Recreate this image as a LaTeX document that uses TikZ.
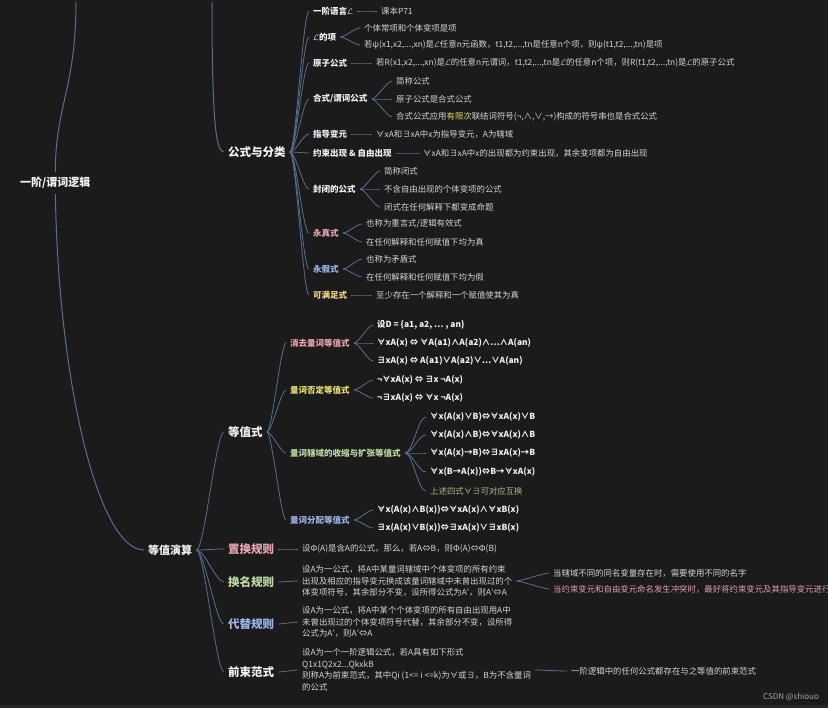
\documentclass[tikz,border=0pt]{standalone}
\usepackage{fontspec}
\setmainfont{Noto Sans CJK SC}
\usetikzlibrary{positioning}
\definecolor{mmbg}{HTML}{1B1B1B}
\definecolor{mmline}{HTML}{5B6E8E}
\definecolor{mmtext}{HTML}{F2F2F2}
\definecolor{mmleaf}{HTML}{D4D4D4}
\definecolor{mmpink}{HTML}{E8A4B2}
\definecolor{mmblue}{HTML}{9DB4E8}
\definecolor{mmyellow}{HTML}{F2D68C}
\definecolor{mmlemon}{HTML}{E6E07A}
\definecolor{mmgreen}{HTML}{BCD9A6}
\definecolor{mmolive}{HTML}{A9B98A}
\definecolor{mmrose}{HTML}{DDA1AA}
\definecolor{mmmark}{HTML}{D9DE66}
\definecolor{mmgray}{HTML}{A6A6A6}

\begin{document}
\begin{tikzpicture}[
  x=1pt, y=-1pt,
  every node/.style={inner xsep=0pt, inner ysep=1pt, anchor=west, text=mmtext},
  rootnode/.style={font=\fontsize{11}{13}\selectfont\bfseries},
  mainnode/.style={font=\fontsize{11.5}{14}\selectfont\bfseries},
  subnode/.style={font=\fontsize{8.5}{10}\selectfont\bfseries},
  leafnode/.style={font=\fontsize{8.4}{11.5}\selectfont, text=mmleaf, align=left},
  mathleaf/.style={font=\fontsize{8.4}{11.5}\selectfont\bfseries},
  conn/.style={draw=mmline, line width=0.8pt, shorten <=4pt, shorten >=4pt},
  link/.style={to path={.. controls +(#1,0) and +(-#1,0) .. (\tikztotarget)}},
  link/.default=9,
]
\useasboundingbox (0,0) rectangle (828,708);
\fill[mmbg] (0,0) rectangle (828,708);
\fill[black!85] (0,705) rectangle (828,708);
\clip (0,0) rectangle (828,708);

% root and the two big branches
\node[rootnode] (root) at (20,183) {一阶/谓词逻辑};
\coordinate (rootup) at (76,-2);
\coordinate (fcup) at (212,-2);
\node[mainnode] (fc) at (228,152) {公式与分类};
\node[rootnode] (calc) at (148,550) {等值演算};

% 公式与分类
\node[subnode] (lang) at (313,11) {一阶语言$\mathcal{L}$};
\node[leafnode] (langA) at (381,11) {课本P71};
\node[subnode] (term) at (313,37) {$\mathcal{L}$的项};
\node[leafnode] (termA) at (364,28) {个体常项和个体变项是项};
\node[leafnode] (termB) at (364,45) {若ψ(x1,x2,...,xn)是$\mathcal{L}$任意n元函数，t1,t2,...,tn是任意n个项，则ψ(t1,t2,...,tn)是项};
\node[subnode] (atom) at (313,63) {原子公式};
\node[leafnode] (atomA) at (376,63) {若R(x1,x2,...,xn)是$\mathcal{L}$的任意n元谓词，t1,t2,...,tn是$\mathcal{L}$的任意n个项，则R(t1,t2,...,tn)是$\mathcal{L}$的原子公式};
\node[subnode] (wff) at (313,99) {合式/谓词公式};
\node[leafnode] (wffA) at (396,81) {简称公式};
\node[leafnode] (wffB) at (396,99) {原子公式是合式公式};
\node[leafnode] (wffC) at (396,117) {合式公式应用\textcolor{mmmark}{有限次}联结词符号(¬,∧,∨,→)构成的符号串也是合式公式};
\node[subnode] (guide) at (313,134) {指导变元};
\node[leafnode] (guideA) at (376,134) {∀xA和∃xA中x为指导变元，A为辖域};
\node[subnode] (occur) at (313,153) {约束出现 \& 自由出现};
\node[leafnode] (occurA) at (423,153) {∀xA和∃xA中x的出现都为约束出现，其余变项都为自由出现};
\node[subnode] (closed) at (313,189) {封闭的公式};
\node[leafnode] (closedA) at (384,171) {简称闭式};
\node[leafnode] (closedB) at (384,189) {不含自由出现的个体变项的公式};
\node[leafnode] (closedC) at (384,207) {闭式在任何解释下都变成命题};
\node[subnode, text=mmpink] (valid) at (313,233) {永真式};
\node[leafnode] (validA) at (366,224) {也称为重言式/逻辑有效式};
\node[leafnode] (validB) at (366,242) {在任何解释和任何赋值下均为真};
\node[subnode, text=mmblue] (unsat) at (313,269) {永假式};
\node[leafnode] (unsatA) at (366,259) {也称为矛盾式};
\node[leafnode] (unsatB) at (366,277) {在任何解释和任何赋值下均为假};
\node[subnode, text=mmyellow] (sat) at (313,295) {可满足式};
\node[leafnode] (satA) at (376,295) {至少存在一个解释和一个赋值使其为真};

% 等值演算
\node[mainnode] (equiv) at (228,432) {等值式};
\node[subnode, text=mmpink] (elim) at (290,343) {消去量词等值式};
\node[mathleaf] (elimA) at (377,325) {设D = \{a1, a2, … , an\}};
\node[mathleaf] (elimB) at (377,343) {∀xA(x) ⇔ ∀A(a1)∧A(a2)∧…∧A(an)};
\node[mathleaf] (elimC) at (377,361) {∃xA(x) ⇔ A(a1)∨A(a2)∨…∨A(an)};
\node[subnode, text=mmlemon] (neg) at (290,390) {量词否定等值式};
\node[mathleaf] (negA) at (377,380) {¬∀xA(x) ⇔ ∃x ¬A(x)};
\node[mathleaf] (negB) at (377,398) {¬∃xA(x) ⇔ ∀x ¬A(x)};
\node[subnode, text=mmgreen] (scope) at (290,453) {量词辖域的收缩与扩张等值式};
\node[mathleaf] (scopeA) at (430,417) {∀x(A(x)∨B)⇔∀xA(x)∨B};
\node[mathleaf] (scopeB) at (430,435) {∀x(A(x)∧B)⇔∀xA(x)∧B};
\node[mathleaf] (scopeC) at (430,453) {∀x(A(x)→B)⇔∃xA(x)→B};
\node[mathleaf] (scopeD) at (430,472) {∀x(B→A(x))⇔B→∀xA(x)};
\node[leafnode, text=mmolive] (scopeE) at (430,491) {上述四式∀∃可对应互换};
\node[subnode, text=mmblue] (dist) at (290,520) {量词分配等值式};
\node[mathleaf] (distA) at (377,510) {∀x(A(x)∧B(x))⇔∀xA(x)∧∀xB(x)};
\node[mathleaf] (distB) at (377,528) {∃x(A(x)∨B(x))⇔∃xA(x)∨∃xB(x)};

\node[mainnode, text=mmpink] (repl) at (228,549) {置换规则};
\node[leafnode] (replA) at (302,549) {设Φ(A)是含A的公式，那么，若A⇔B，则Φ(A)⇔Φ(B)};
\node[mainnode, text=mmgreen] (rename) at (228,582) {换名规则};
\node[leafnode] (renameA) at (302,581) {设A为一公式，将A中某量词辖域中个体变项的所有约束\\出现及相应的指导变元换成该量词辖域中未曾出现过的个\\体变项符号，其余部分不变，设所得公式为A′，则A′⇔A};
\node[leafnode] (renameB) at (553,573) {当辖域不同的同名变量存在时，需要使用不同的名字};
\node[leafnode, text=mmrose] (renameC) at (553,589) {当约束变元和自由变元命名发生冲突时，最好将约束变元及其指导变元进行};
\node[mainnode, text=mmblue] (subst) at (228,624) {代替规则};
\node[leafnode] (substA) at (302,622) {设A为一公式，将A中某个个体变项的所有自由出现用A中\\未曾出现过的个体变项符号代替，其余部分不变，设所得\\公式为A′，则A′⇔A};
\node[mainnode] (prenex) at (228,672) {前束范式};
\node[leafnode] (prenexA) at (302,670) {设A为一个一阶逻辑公式，若A具有如下形式\\Q1x1Q2x2...QkxkB\\则称A为前束范式，其中Qi (1<= i <=k)为∀或∃，B为不含量词\\的公式};
\node[leafnode] (prenexB) at (571,671) {一阶逻辑中的任何公式都存在与之等值的前束范式};

\node[text=mmgray, font=\fontsize{8}{9}\selectfont] (mark) at (763,697) {CSDN @shiouo};

% connectors
\draw[conn, line width=1pt] (root.north) .. controls +(0,-70) and +(0,90) .. (rootup);
\draw[conn, line width=1pt] (root.south) .. controls +(3,190) and +(-50,0) .. (calc.west);
\draw[conn, line width=1pt] (fcup) .. controls +(0,125) and +(-12,0) .. (fc.west);

\draw[conn] (fc.east) to[link=10] (lang.west);
\draw[conn] (fc.east) to[link=10] (term.west);
\draw[conn] (fc.east) to[link=10] (atom.west);
\draw[conn] (fc.east) to[link=10] (wff.west);
\draw[conn] (fc.east) to[link=10] (guide.west);
\draw[conn] (fc.east) to[link=10] (occur.west);
\draw[conn] (fc.east) to[link=10] (closed.west);
\draw[conn] (fc.east) to[link=10] (valid.west);
\draw[conn] (fc.east) to[link=10] (unsat.west);
\draw[conn] (fc.east) to[link=10] (sat.west);

\draw[conn] (lang.east) to[link] (langA.west);
\draw[conn] (term.east) to[link] (termA.west);
\draw[conn] (term.east) to[link] (termB.west);
\draw[conn] (atom.east) to[link] (atomA.west);
\draw[conn] (wff.east) to[link] (wffA.west);
\draw[conn] (wff.east) to[link] (wffB.west);
\draw[conn] (wff.east) to[link] (wffC.west);
\draw[conn] (guide.east) to[link] (guideA.west);
\draw[conn] (occur.east) to[link] (occurA.west);
\draw[conn] (closed.east) to[link] (closedA.west);
\draw[conn] (closed.east) to[link] (closedB.west);
\draw[conn] (closed.east) to[link] (closedC.west);
\draw[conn] (valid.east) to[link] (validA.west);
\draw[conn] (valid.east) to[link] (validB.west);
\draw[conn] (unsat.east) to[link] (unsatA.west);
\draw[conn] (unsat.east) to[link] (unsatB.west);
\draw[conn] (sat.east) to[link] (satA.west);

\draw[conn] (calc.east) to[link=12] (equiv.west);
\draw[conn] (calc.east) to[link=12] (repl.west);
\draw[conn] (calc.east) to[link=12] (rename.west);
\draw[conn] (calc.east) to[link=12] (subst.west);
\draw[conn] (calc.east) to[link=12] (prenex.west);

\draw[conn] (equiv.east) to[link] (elim.west);
\draw[conn] (equiv.east) to[link] (neg.west);
\draw[conn] (equiv.east) to[link] (scope.west);
\draw[conn] (equiv.east) to[link] (dist.west);
\draw[conn] (elim.east) to[link] (elimA.west);
\draw[conn] (elim.east) to[link] (elimB.west);
\draw[conn] (elim.east) to[link] (elimC.west);
\draw[conn] (neg.east) to[link] (negA.west);
\draw[conn] (neg.east) to[link] (negB.west);
\draw[conn] (scope.east) to[link=12] (scopeA.west);
\draw[conn] (scope.east) to[link=12] (scopeB.west);
\draw[conn] (scope.east) to[link=12] (scopeC.west);
\draw[conn] (scope.east) to[link=12] (scopeD.west);
\draw[conn] (scope.east) to[link=12] (scopeE.west);
\draw[conn] (dist.east) to[link] (distA.west);
\draw[conn] (dist.east) to[link] (distB.west);

\draw[conn] (repl.east) to[link] (replA.west);
\draw[conn] (rename.east) to[link] (renameA.west);
\draw[conn] (renameA.east) to[link] (renameB.west);
\draw[conn] (renameA.east) to[link] (renameC.west);
\draw[conn] (subst.east) to[link] (substA.west);
\draw[conn] (prenex.east) to[link] (prenexA.west);
\draw[conn] (prenexA.east) to[link] (prenexB.west);
\end{tikzpicture}
\end{document}
